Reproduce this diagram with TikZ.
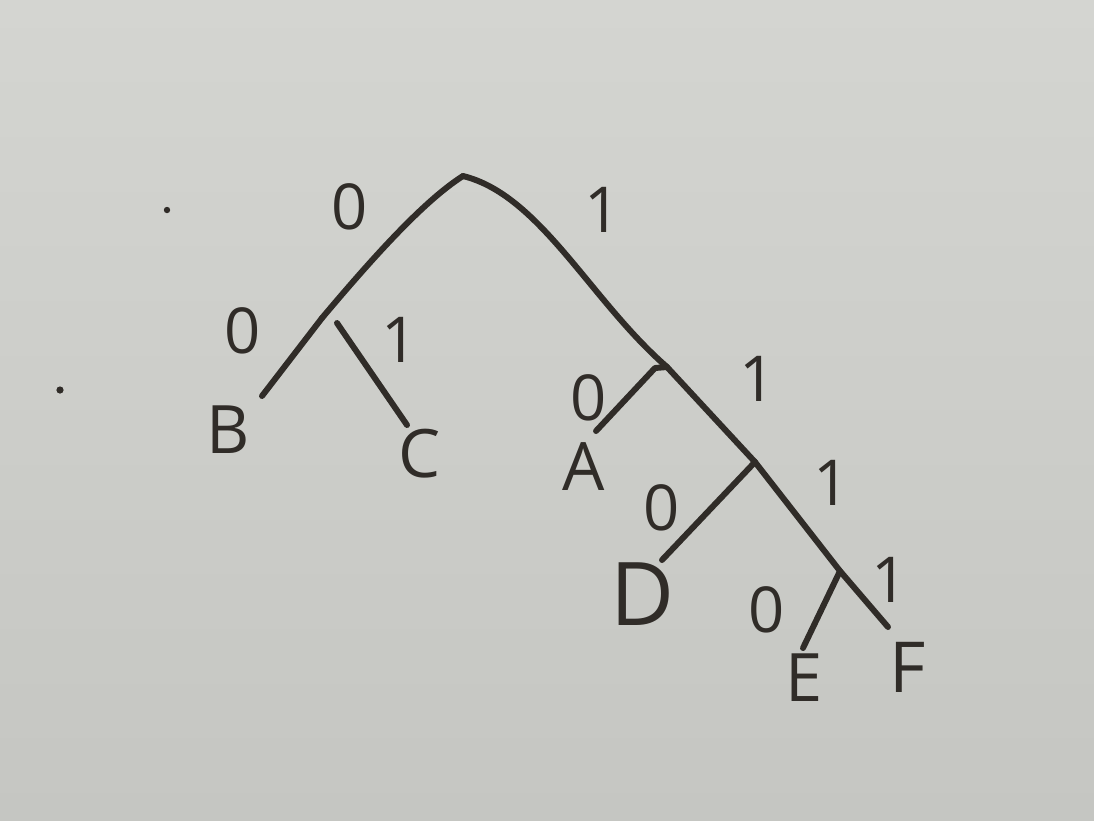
\documentclass[tikz,border=0pt]{standalone}
\usepackage{fontspec}
\setmainfont{Open Sans}
\begin{document}
\begin{tikzpicture}[x=0.01cm,y=-0.01cm,
  ink/.style={draw=inkc,line width=1.7pt,line cap=round,line join=round},
  leaf/.style={text=inkc,inner sep=0pt,font=\fontsize{19}{21}\selectfont},
  bit/.style={text=inkc,inner sep=0pt,font=\fontsize{18}{20}\selectfont}]
\definecolor{inkc}{RGB}{48,44,40}
\definecolor{boardtop}{RGB}{212,213,209}
\definecolor{boardbot}{RGB}{197,198,194}
\useasboundingbox (0,0) rectangle (1094,820);
\shade[top color=boardtop,bottom color=boardbot] (0,0) rectangle (1094,820);
% marks on the board
\fill[inkc] (167,210) circle (3.2);
\fill[inkc] (60,390) circle (3.6);
% junctions
\coordinate (root) at (463,176);
\coordinate (n0) at (322,318);
\coordinate (n1) at (667,367);
\coordinate (n11) at (755,462);
\coordinate (n111) at (840,571);
% free ends of the branches
\coordinate (bEnd) at (262,396);
\coordinate (cTop) at (337,323);
\coordinate (cEnd) at (407,425);
\coordinate (aTop) at (655,368);
\coordinate (aEnd) at (596,431);
\coordinate (dEnd) at (662,560);
\coordinate (eEnd) at (803,648);
\coordinate (fEnd) at (888,627);
% leaves
\node[leaf] (B) at (228,430) {B};
\node[leaf] (C) at (420,454) {C};
\node[leaf] (A) at (584,467) {A};
\node[leaf,font=\fontsize{25}{27}\selectfont] (D) at (643,594) {D};
\node[leaf] (E) at (804,678) {E};
\node[leaf,font=\fontsize{20}{22}\selectfont] (F) at (908,667) {F};
% branches
\draw[ink] (root) .. controls (425,200) and (375,255) .. (n0);
\draw[ink] (n0) -- (bEnd);
\draw[ink] (cTop) -- (cEnd);
\draw[ink] (root) .. controls (540,195) and (590,300) .. (n1);
\draw[ink] (n1) -- (aTop) -- (aEnd);
\draw[ink] (n1) -- (n11);
\draw[ink] (n11) -- (dEnd);
\draw[ink] (n11) -- (n111) -- (fEnd);
\draw[ink] (n111) -- (eEnd);
% bit labels
\node[bit] (l0) at (350,207) {0};
\node[bit] (l1) at (603,210) {1};
\node[bit] (l00) at (243,331) {0};
\node[bit] (l01) at (400,340) {1};
\node[bit] (l10) at (589,398) {0};
\node[bit] (l11) at (758,379) {1};
\node[bit] (l110) at (662,508) {0};
\node[bit] (l111) at (832,483) {1};
\node[bit] (l1110) at (767,610) {0};
\node[bit] (l1111) at (890,580) {1};
\end{tikzpicture}
\end{document}
